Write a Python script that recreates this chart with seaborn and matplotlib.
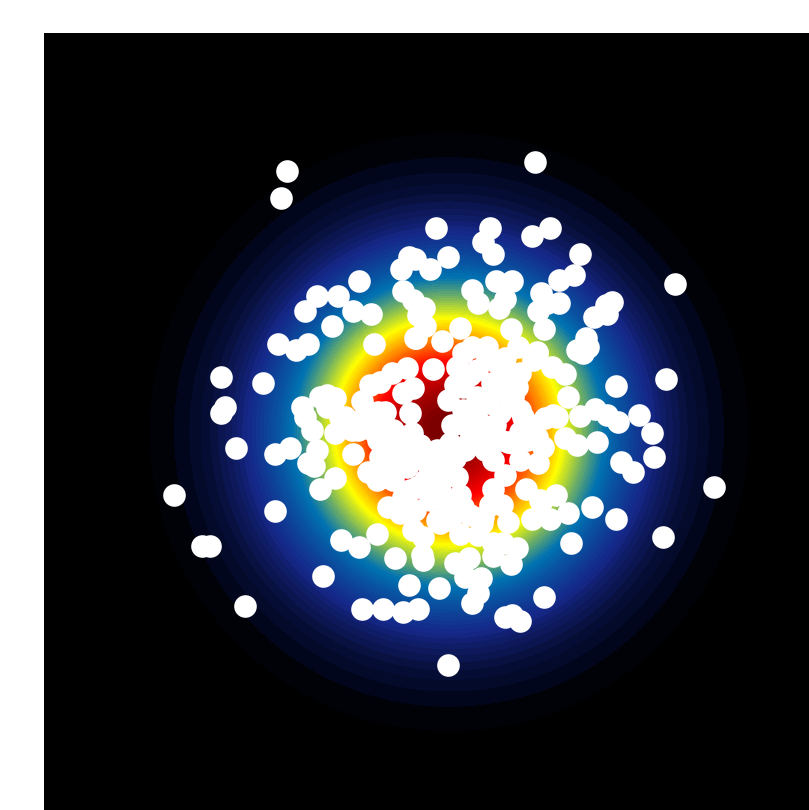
import matplotlib
matplotlib.use('Agg')
import matplotlib.pyplot as plt
import seaborn as sns
import pandas as pd
from matplotlib.colors import LinearSegmentedColormap

# points (picture units)
xs = [287, 281, 436, 359, 317, 338, 305, 353, 371, 332, 278, 296, 308, 374, 221, 263, 225, 221,
      409, 401, 415, 430, 448, 403, 413, 424, 418, 425, 415, 442, 433, 407, 392, 380, 370, 362,
      403, 413, 302, 305, 320, 327, 335, 327, 340,
      535, 675, 490, 550, 532, 483, 493, 580, 574, 559, 496, 512, 472, 478, 505, 499, 541, 559,
      547, 538, 544, 612, 606, 607, 594, 586, 588, 577, 583, 666, 616, 511, 460, 472, 518, 537,
      552, 565, 568, 505, 487, 520, 513, 595, 607, 580, 639, 618, 652, 553, 545, 523,
      714, 663, 654, 621, 633, 616, 592, 568, 556, 541, 532, 550, 571, 544, 505, 512, 520, 517,
      511, 493, 503, 493, 481, 478, 472, 469, 465, 455, 508, 493, 502, 526, 490, 483, 460, 462,
      450, 448, 538, 493, 597, 577, 565, 543, 527, 508,
      174, 202, 210, 236, 275, 290, 275, 245, 323, 317, 308, 314, 335, 320, 353, 341, 359, 377,
      395, 423, 409, 439, 362, 383, 403, 418, 388, 400, 413, 423, 437, 377, 368, 393, 400, 413,
      387, 335, 358, 312,
      416, 420, 537, 345, 383, 393, 410, 412, 403, 380, 385, 407, 417, 403, 447, 463, 440, 457,
      443, 427, 437, 450, 452, 448, 463, 463, 477, 492, 507, 517, 520, 500, 480, 470, 487, 513,
      537, 527, 477, 457, 487, 510, 463, 497, 533, 557, 482, 540, 422,
      378, 365, 392, 378, 420, 425, 430, 440, 485, 500, 495, 470, 455, 490, 500, 475, 465,
      430, 415, 450, 470, 478, 487, 372, 352, 445, 432, 410, 395, 405, 460, 520, 505,
      385, 372, 385, 520, 455, 465]
ys = [171, 198, 228, 281, 296, 296, 311, 311, 314, 326, 344, 350, 344, 344, 377, 383, 407, 413,
      257, 269, 259, 269, 257, 291, 300, 308, 315, 326, 338, 341, 369, 368, 373, 382, 385, 401,
      393, 388, 407, 417, 397, 395, 398, 407, 417,
      162, 284, 228, 228, 236, 242, 254, 254, 275, 280, 281, 281, 290, 303, 299, 308, 293, 303,
      303, 311, 329, 302, 305, 314, 317, 338, 347, 350, 353, 379, 386, 329, 328, 347, 347, 352,
      367, 374, 397, 358, 358, 373, 397, 409, 415, 416, 415, 422, 433, 415, 418, 417,
      487, 537, 457, 462, 472, 519, 507, 513, 495, 502, 519, 519, 543, 597, 617, 615, 621, 548,
      564, 556, 543, 543, 578, 593, 603, 558, 577, 563, 522, 489, 505, 489, 505, 517, 534, 508,
      507, 665, 463, 460, 442, 445, 438, 447, 440, 442,
      495, 546, 546, 448, 454, 448, 511, 606, 576, 450, 463, 466, 478, 489, 454, 540, 547, 534,
      558, 560, 585, 588, 609, 609, 612, 609, 507, 513, 530, 537, 520, 480, 472, 480, 467, 450,
      440, 433, 430, 430,
      338, 315, 353, 417, 423, 430, 413, 433, 450, 457, 477, 467, 487, 497, 503, 507, 523, 477,
      470, 463, 450, 443, 425, 400, 410, 387, 397, 383, 370, 387, 410, 413, 423, 440, 440, 443,
      437, 423, 370, 367, 403, 403, 353, 363, 360, 417, 523, 500, 555,
      412, 415, 445, 440, 445, 480, 490, 490, 450, 440, 425, 375, 385, 395, 385, 410, 425,
      500, 510, 520, 515, 535, 347, 430, 430, 470, 480, 490, 460, 445, 495, 460, 475,
      412, 422, 432, 432, 458, 450]

grid_x = [144.5, 188, 231.5, 275, 318.5, 362, 405.5, 449, 492.5, 536, 579.5, 623, 666.5, 710, 753.5]
grid_y = [127.5, 171, 214.5, 258, 301.5, 345, 388.5, 432, 475.5, 519, 562.5, 606, 649.5, 693, 736.5]
density = [
    [0.00, 0.01, 0.02, 0.05, 0.12, 0.21, 0.30, 0.34, 0.30, 0.21, 0.12, 0.05, 0.02, 0.01, 0.00],
    [0.01, 0.03, 0.10, 0.24, 0.54, 1.00, 1.40, 1.50, 1.40, 1.00, 0.54, 0.24, 0.10, 0.03, 0.01],
    [0.02, 0.10, 0.30, 0.86, 1.90, 3.50, 4.90, 5.50, 4.90, 3.50, 1.90, 0.86, 0.30, 0.10, 0.02],
    [0.05, 0.24, 0.86, 2.40, 5.50, 10.0, 14.0, 16.0, 14.0, 10.0, 5.50, 2.40, 0.86, 0.24, 0.05],
    [0.12, 0.54, 1.90, 5.50, 12.0, 22.0, 31.0, 35.0, 31.0, 22.0, 12.0, 5.50, 1.90, 0.54, 0.12],
    [0.21, 1.00, 3.50, 10.0, 22.0, 41.0, 58.0, 63.0, 56.0, 42.0, 23.0, 10.0, 3.50, 1.00, 0.21],
    [0.30, 1.40, 4.90, 14.0, 32.0, 58.0, 88.0, 92.0, 80.0, 60.0, 33.0, 14.0, 4.90, 1.40, 0.30],
    [0.34, 1.50, 5.50, 16.0, 36.0, 66.0, 98.0, 100., 86.0, 63.0, 35.0, 16.0, 5.50, 1.50, 0.34],
    [0.30, 1.40, 4.90, 14.0, 31.0, 56.0, 80.0, 86.0, 82.0, 58.0, 31.0, 14.0, 4.90, 1.40, 0.30],
    [0.21, 1.00, 3.50, 10.0, 22.0, 40.0, 56.0, 63.0, 60.0, 42.0, 22.0, 10.0, 3.50, 1.00, 0.21],
    [0.12, 0.54, 1.90, 5.50, 12.0, 22.0, 31.0, 35.0, 32.0, 22.0, 12.0, 5.50, 1.90, 0.54, 0.12],
    [0.05, 0.24, 0.86, 2.40, 5.50, 10.0, 14.0, 16.0, 14.0, 10.0, 5.50, 2.40, 0.86, 0.24, 0.05],
    [0.02, 0.10, 0.30, 0.86, 1.90, 3.50, 4.90, 5.50, 4.90, 3.50, 1.90, 0.86, 0.30, 0.10, 0.02],
    [0.01, 0.03, 0.10, 0.24, 0.54, 1.00, 1.40, 1.50, 1.40, 1.00, 0.54, 0.24, 0.10, 0.03, 0.01],
    [0.00, 0.01, 0.02, 0.05, 0.12, 0.21, 0.30, 0.34, 0.30, 0.21, 0.12, 0.05, 0.02, 0.01, 0.00],
]

table = pd.DataFrame(density, index=grid_y, columns=grid_x).stack().reset_index()
table.columns = ['y', 'x', 'density']

sns.set_style('white')
cols = ['#000000', '#02051a', '#070f3a', '#15288a', '#0072b2', '#ffff00', '#ff0000', '#7a0000']
stops = [0.0, 0.013, 0.05, 0.13, 0.3, 0.53, 0.8, 1.0]
cm = LinearSegmentedColormap.from_list('heat', list(zip(stops, cols)))

fig = plt.figure(figsize=(8.09, 8.10), dpi=100)
ax = fig.add_axes([44 / 809, -17 / 810, 810 / 809, 794 / 810])
ax.set_facecolor('black')

sns.kdeplot(data=table, x='x', y='y', weights='density', fill=True, levels=79, thresh=0.0127,
            cmap=cm, gridsize=300, cut=3, ax=ax)
sns.scatterplot(x=xs, y=ys, color='white', s=265, linewidth=0, zorder=3, ax=ax)

ax.set_xlim(44, 854)
ax.set_ylim(827, 33)
ax.set_xticks([])
ax.set_yticks([])
ax.set_xlabel('')
ax.set_ylabel('')
sns.despine(ax=ax, left=True, bottom=True)

fig.savefig('out.png', dpi=100, facecolor='white')
